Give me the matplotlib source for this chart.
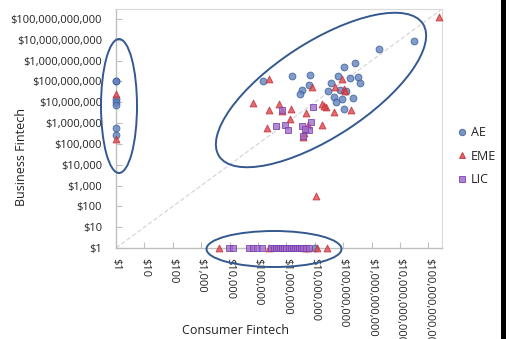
"""Consumer vs. business fintech volumes by country group (log-log scatter)."""

import matplotlib

matplotlib.use("Agg")

import matplotlib.pyplot as plt
import numpy as np
from matplotlib.lines import Line2D
from matplotlib.patches import Ellipse, Rectangle
from matplotlib.ticker import FixedLocator, FuncFormatter, NullLocator
from matplotlib.transforms import Affine2D

plt.rcParams["font.family"] = ["Open Sans", "DejaVu Sans"]

# log10 of USD volumes; consumer on x, business on y
AE_CONSUMER_LOG = [
    0.0, 0.0, 0.0, 0.0, 0.0, 0.0, 0.0,
    5.19, 6.20, 6.84, 6.80, 6.56, 6.48, 7.56, 7.48, 7.82, 8.03, 8.43, 8.23,
    8.52, 8.58, 7.90, 8.09, 7.66, 7.95, 7.73, 8.36, 8.03, 9.27, 10.48,
    7.02,
]
AE_BUSINESS_LOG = [
    8.03, 8.00, 7.15, 7.02, 6.89, 5.75, 5.42,
    8.03, 8.27, 8.30, 7.82, 7.60, 7.39, 7.93, 7.56, 8.27, 8.69, 8.88, 8.17,
    8.22, 7.92, 7.60, 7.56, 7.23, 7.15, 6.99, 7.20, 6.70, 9.57, 9.92,
    0.0,
]

EME_CONSUMER_LOG = [
    0.0, 0.0,
    11.38, 5.39, 4.82, 5.39, 5.74, 6.15, 5.83, 6.13, 6.69, 5.33, 6.77, 6.63,
    6.60, 6.91, 7.25, 7.25, 7.38, 7.66, 7.96, 7.72, 8.03, 8.05, 8.29, 7.32,
    7.03,
    3.63, 5.40, 6.65, 6.77, 7.07, 7.42,
]
EME_BUSINESS_LOG = [
    7.40, 5.24,
    11.09, 8.14, 6.96, 6.63, 6.91, 6.70, 6.59, 6.19, 6.48, 5.78, 5.93, 5.51,
    5.35, 7.71, 5.91, 6.91, 6.76, 6.51, 8.14, 7.73, 7.63, 7.56, 6.62, 6.83,
    2.51,
    0.0, 0.0, 0.0, 0.0, 0.0, 0.0,
]

LIC_CONSUMER_LOG = [
    5.83, 6.95, 5.63, 5.96, 6.06, 6.55, 6.85, 6.79, 6.67, 6.60,
    3.99, 4.13, 4.69, 4.83, 4.98, 5.13, 5.45, 5.55, 5.62, 5.70, 5.78,
    5.85, 5.93, 6.00, 6.08, 6.15, 6.22, 6.30, 6.38, 6.45, 6.52, 6.60,
    6.68, 6.78,
]
LIC_BUSINESS_LOG = [
    6.62, 6.76, 5.87, 5.90, 5.66, 5.85, 6.06, 5.66, 5.74, 5.38,
    0.0, 0.0, 0.0, 0.0, 0.0, 0.0, 0.0, 0.0, 0.0, 0.0, 0.0,
    0.0, 0.0, 0.0, 0.0, 0.0, 0.0, 0.0, 0.0, 0.0, 0.0, 0.0,
    0.0, 0.0,
]

TICK_EXPONENTS = list(range(0, 12))
AXIS_MAX_LOG = 11.48

SERIES = [
    ("AE", AE_CONSUMER_LOG, AE_BUSINESS_LOG, "o", 24, "#6283BE", "#3C609B"),
    ("EME", EME_CONSUMER_LOG, EME_BUSINESS_LOG, "^", 24, "#E0474C", "#C0303A"),
    ("LIC", LIC_CONSUMER_LOG, LIC_BUSINESS_LOG, "s", 18, "#A06ECB", "#7A3FAE"),
]

OUTLINE_COLOR = "#34598F"


def dollar_label(value, _pos):
    return f"${int(round(value)):,}"


fig = plt.figure(figsize=(5.09, 3.39), dpi=100)
ax = fig.add_axes([116 / 509, 91 / 339, 326 / 509, 239 / 339])

ax.set_xscale("log")
ax.set_yscale("log")
ax.set_xlim(1, 10 ** AXIS_MAX_LOG)
ax.set_ylim(1, 10 ** AXIS_MAX_LOG)

ticks = [10.0 ** e for e in TICK_EXPONENTS]
for axis in (ax.xaxis, ax.yaxis):
    axis.set_major_locator(FixedLocator(ticks))
    axis.set_major_formatter(FuncFormatter(dollar_label))
    axis.set_minor_locator(NullLocator())

ax.tick_params(axis="both", direction="in", length=4, width=0.8,
               color="#BFBFBF", labelsize=8, labelcolor="#222222")
ax.tick_params(axis="y", pad=10)
ax.tick_params(axis="x", pad=7)
for label in ax.get_xticklabels():
    label.set_rotation(270)
    label.set_ha("center")
    label.set_va("top")

for side in ("left", "bottom"):
    ax.spines[side].set_color("#BFBFBF")
    ax.spines[side].set_linewidth(1.0)
for side in ("top", "right"):
    ax.spines[side].set_color("#D9D9D9")
    ax.spines[side].set_linewidth(0.8)

# 45-degree parity line (consumer == business)
ax.axline((1, 1), (10, 10), color="#D3D3D3", linewidth=0.8,
          linestyle=(0, (4, 2)), zorder=1)

for name, xs, ys, marker, size, face, edge in SERIES:
    ax.scatter(10.0 ** np.array(xs), 10.0 ** np.array(ys), marker=marker,
               s=size, facecolor=face, edgecolor=edge, linewidths=0.7,
               alpha=0.8, clip_on=False, zorder=3, label=name)

# cluster outlines, drawn in pixel units relative to the axes corner
ax_w = ax.get_position().width * fig.get_figwidth() * fig.dpi
ax_h = ax.get_position().height * fig.get_figheight() * fig.dpi
px = Affine2D().scale(1 / ax_w, 1 / ax_h) + ax.transAxes
outlines = [
    ((3, 142), 36, 134, 0),
    ((205, 158), 243, 95, 33),
    ((158, -1), 135, 36, 0),
]
for center, width, height, angle in outlines:
    ax.add_patch(Ellipse(center, width, height, angle=angle, transform=px,
                         fill=False, edgecolor=OUTLINE_COLOR, linewidth=1.4,
                         clip_on=False, zorder=4))

fig.text(22 / 509, 1 - 157 / 339, "Business Fintech", rotation=90,
         ha="center", va="center", fontsize=9, color="#222222")
fig.text(235 / 509, 1 - 330 / 339, "Consumer Fintech",
         ha="center", va="center", fontsize=9, color="#222222")

handles = [
    Line2D([], [], linestyle="none", marker=marker,
           markersize=4.6 if marker != "s" else 4.2,
           markerfacecolor=face, markeredgecolor=edge, markeredgewidth=0.7,
           alpha=0.85)
    for _, _, _, marker, _, face, edge in SERIES
]
fig.legend(handles, [s[0] for s in SERIES], loc="center left",
           bbox_to_anchor=(446 / 509, 1 - 156 / 339), frameon=False,
           fontsize=9, handlelength=0.8, handletextpad=0.3, labelspacing=0.85,
           labelcolor="#222222")

# dark strip at the right edge of the sheet
fig.add_artist(Rectangle((501 / 509, 0), 5 / 509, 1, transform=fig.transFigure,
                         facecolor="black", edgecolor="none"))

fig.savefig("out.png", dpi=100)
plt.close(fig)
